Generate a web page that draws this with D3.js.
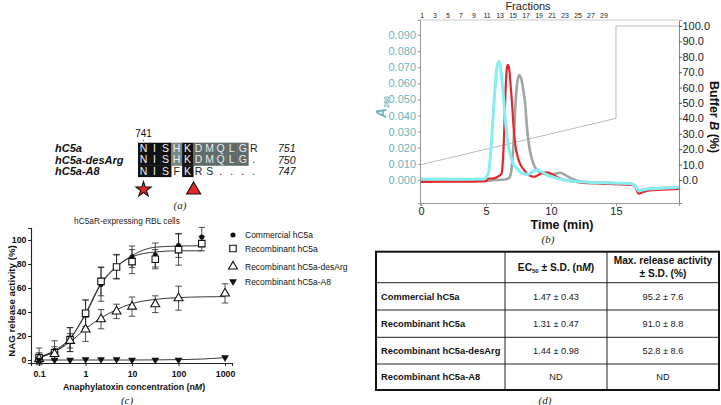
<!DOCTYPE html>
<html><head><meta charset="utf-8">
<script src="https://cdn.jsdelivr.net/npm/d3@7"></script>
<style>
body{margin:0;background:#fff}
svg{display:block}
text{font-family:"Liberation Sans",Arial,sans-serif}
.serif{font-family:"Liberation Serif","Times New Roman",serif;font-style:italic}
</style>
</head><body>
<svg id="fig" width="721" height="405"></svg>
<script>
// ---------- Panel (a): alignment ----------
const seqNames = ["hC5a", "hC5a-desArg", "hC5a-A8"];
const seqResidues = ["NISHKDMQLGR", "NISHKDMQLG.", "NISFKRS...."];
const seqShade = ["bbbhbgggggw", "bbbhbgggggw", "bbbwbwwwwww"];
const seqEnds = ["751", "750", "747"];
const seqStartLabel = "741";

// ---------- Panel (b): chromatogram ----------
const fractionLabels = [1, 3, 5, 7, 9, 11, 13, 15, 17, 19, 21, 23, 25, 27, 29];
const fractionMinutes = 0.5;
const timeTicks = [0, 5, 10, 15];
const a280Ticks = [0, 0.01, 0.02, 0.03, 0.04, 0.05, 0.06, 0.07, 0.08, 0.09];
const bufferTicks = [0, 10, 20, 30, 40, 50, 60, 70, 80, 90, 100];
const gradientTime = [0, 15, 15, 19.85];
const gradientB = [10, 40, 100, 100];

const grayTime = [0, 2, 4, 5.2, 5.6, 6.0, 6.5, 6.8, 6.95, 7.05, 7.15, 7.25, 7.4, 7.55, 7.7, 7.85, 8.0, 8.15, 8.3, 8.5, 8.7, 9.0, 9.4, 9.9, 10.3, 10.7, 11.1, 11.6, 12.2, 13, 14, 15, 16, 16.3, 16.55, 16.75, 17, 17.5, 18.5, 19.85];
const grayA280 = [0.0003, 0.0003, 0.0002, -0.0005, 0.0, 0.0, 0.0003, 0.0015, 0.006, 0.014, 0.028, 0.045, 0.060, 0.065, 0.063, 0.057, 0.048, 0.033, 0.022, 0.014, 0.009, 0.0055, 0.004, 0.003, 0.0038, 0.0045, 0.003, 0.0008, -0.0008, -0.0014, -0.0018, -0.002, -0.0022, -0.0027, -0.0045, -0.0066, -0.006, -0.0055, -0.005, -0.0045];

const redTime = [0, 2, 4, 5.0, 5.2, 5.6, 5.9, 6.2, 6.3, 6.4, 6.5, 6.6, 6.68, 6.78, 6.9, 7.0, 7.12, 7.25, 7.45, 7.65, 7.9, 8.15, 8.5, 8.75, 9.0, 9.3, 9.65, 10.0, 10.4, 10.8, 11.5, 12.5, 13.5, 14.5, 15.5, 16.2, 16.5, 16.75, 17.1, 17.6, 18.5, 19.85];
const redA280 = [-0.0012, -0.0011, -0.001, -0.0008, 0.0008, 0.001, 0.002, 0.004, 0.012, 0.030, 0.055, 0.069, 0.0715, 0.069, 0.058, 0.048, 0.033, 0.022, 0.014, 0.0095, 0.0065, 0.004, 0.0022, 0.002, 0.003, 0.0042, 0.0048, 0.004, 0.002, 0.0006, -0.0008, -0.0018, -0.0022, -0.0025, -0.0028, -0.003, -0.0045, -0.0085, -0.0075, -0.0065, -0.006, -0.0055];

const cyanTime = [0, 1, 2, 3, 4, 4.8, 5.0, 5.2, 5.35, 5.5, 5.65, 5.8, 5.95, 6.05, 6.2, 6.35, 6.5, 6.65, 6.85, 7.1, 7.4, 7.8, 8.2, 8.6, 8.9, 9.3, 9.7, 10.3, 11, 12, 13, 14, 15, 16, 16.3, 16.55, 16.75, 17.0, 17.5, 18.5, 19.85];
const cyanA280 = [0.0006, 0.0005, 0.0006, 0.0004, 0.0005, 0.0006, 0.0015, 0.005, 0.016, 0.034, 0.052, 0.067, 0.0735, 0.073, 0.064, 0.051, 0.036, 0.025, 0.016, 0.010, 0.007, 0.004, 0.0035, 0.005, 0.0062, 0.005, 0.003, 0.0015, 0.0, -0.001, -0.0015, -0.0018, -0.002, -0.0022, -0.0028, -0.0045, -0.0068, -0.0062, -0.0056, -0.0052, -0.0045];

// ---------- Panel (c): dose response ----------
const concentrations = [0.1, 0.215, 0.464, 1, 2.15, 4.64, 10, 31.6, 100, 316, 1000];
const seriesNames = ["Commercial hC5a", "Recombinant hC5a", "Recombinant hC5a-desArg", "Recombinant hC5a-A8"];
const commercialMean = [3, 8, 17, 38, 63, 78, 86, 87.5, 95.5, 102.5, null];
const commercialSD = [7, 8, 10, 12, 14, 10, 9, 10, 10, 8, null];
const recombinantMean = [2, 6, 17, 39, 65.5, 77.5, 82, 84, 92, 97, null];
const recombinantSD = [4, 5, 10, 11, 12, 10, 10, 8, 13, 6, null];
const desArgMean = [1, 5, 16, 25.5, 34, 40.5, 44.5, 46.5, 51.5, null, 55.5];
const desArgSD = [3, 4, 6, 10, 8, 6, 8, 7, 10, null, 8];
const a8Mean = [0, 0, 0, 0.5, 0.5, 0.5, 0, 0, 0, null, 2];
const a8SD = [0, 0, 0, 0, 0, 0, 0, 0, 0, null, 0];
const fitConc = [0.1, 0.215, 0.464, 1, 2.15, 4.64, 10, 31.6, 100, 316, 1000];
const commercialFit = [2.5, 8, 18, 38, 63, 77.5, 87, 94, 95, 95.2, null];
const recombinantFit = [2, 7, 17.5, 39, 64, 78, 86, 90, 91, 91, null];
const desArgFit = [2, 7, 15, 26, 35, 42, 47, 50.5, 52, 52.6, 52.8];
const a8Fit = [0, 0, 0, 0, 0, 0, 0, 0.1, 0.3, 0.8, 2];
const yTicksC = [0, 20, 40, 60, 80, 100];
const xTicksC = [0.1, 1, 10, 100, 1000];

// ---------- Panel (d): table ----------
const tableRows = ["Commercial hC5a", "Recombinant hC5a", "Recombinant hC5a-desArg", "Recombinant hC5a-A8"];
const ec50Values = ["1.47 ± 0.43", "1.31 ± 0.47", "1.44 ± 0.98", "ND"];
const maxValues = ["95.2 ± 7.6", "91.0 ± 8.8", "52.8 ± 8.6", "ND"];

const svg = d3.select("#fig");

// ===== Panel (a) =====
(function(){
  const g = svg.append("g");
  const col = d3.scaleBand().domain(d3.range(11)).range([138, 259.3]);
  const row = d3.scaleBand().domain(d3.range(3)).range([142.7, 176.7]);
  const fill = {b: "#111", h: "#778585", g: "#5e6a6a", w: "none"};
  const tcol = {b: "#f2f2f2", h: "#eef2f2", g: "#e9eded", w: "#222"};
  seqResidues.forEach((s, r) => {
    s.split("").forEach((ch, i) => {
      const sh = seqShade[r][i];
      if (sh !== "w") g.append("rect").attr("x", col(i)).attr("y", row(r)).attr("width", col.bandwidth() + 0.4).attr("height", row.bandwidth() + 0.4).attr("fill", fill[sh]);
      g.append("text").attr("x", col(i) + col.bandwidth() / 2).attr("y", row(r) + row.bandwidth() / 2 + 3.6)
        .attr("text-anchor", "middle").attr("font-size", 10.5).attr("fill", tcol[sh]).text(ch);
    });
    g.append("text").attr("x", 55).attr("y", row(r) + row.bandwidth() / 2 + 4).attr("font-size", 11)
      .attr("font-weight", "bold").attr("font-style", "italic").attr("fill", "#111").text(seqNames[r]);
    g.append("text").attr("x", 278).attr("y", row(r) + row.bandwidth() / 2 + 4).attr("font-size", 10.5)
      .attr("font-style", "italic").attr("fill", "#111").text(seqEnds[r]);
  });
  g.append("text").attr("x", col(0) + col.bandwidth() / 2).attr("y", 137).attr("text-anchor", "middle").attr("font-size", 10).attr("fill", "#111").text(seqStartLabel);
  g.append("circle").attr("cx", col(0) + col.bandwidth() / 2).attr("cy", 140.3).attr("r", 0.6).attr("fill", "#333");
  g.append("path").attr("d", d3.symbol(d3.symbolStar, 70)()).attr("transform", `translate(${col(0) + col.bandwidth() / 2},189.5)`)
    .attr("fill", "#e8262a").attr("stroke", "#111").attr("stroke-width", 1.1);
  g.append("path").attr("d", d3.symbol(d3.symbolTriangle, 85)()).attr("transform", `translate(${col(5) + 0.5},190)`)
    .attr("fill", "#e8262a").attr("stroke", "#111").attr("stroke-width", 1.1);
  g.append("text").attr("class", "serif").attr("x", 180).attr("y", 209).attr("text-anchor", "middle").attr("font-size", 11).attr("fill", "#222").text("(a)");
})();

// ===== Panel (b) =====
(function(){
  const g = svg.append("g");
  const x = d3.scaleLinear().domain([-0.08, 19.85]).range([420, 679]);
  const yA = d3.scaleLinear().domain([-0.0143, 0.0993]).range([203, 20]);
  const yB = d3.scaleLinear().domain([-14.94, 103.9]).range([203, 20]);
  const teal = "#6cb4ba";
  g.append("line").attr("x1", 420).attr("x2", 679).attr("y1", 20).attr("y2", 20).attr("stroke", "#bbb").attr("stroke-width", 0.8);
  const gl = d3.line().x(d => x(d[0])).y(d => yB(d[1]));
  g.append("path").attr("d", gl(gradientTime.map((t, i) => [t, gradientB[i]]))).attr("fill", "none").attr("stroke", "#aaa").attr("stroke-width", 0.8);
  const line = d3.line().x(d => x(d[0])).y(d => yA(d[1])).curve(d3.curveMonotoneX);
  g.append("path").attr("d", line(grayTime.map((t, i) => [t, grayA280[i]]))).attr("fill", "none").attr("stroke", "#9ea6a6").attr("stroke-width", 2.6);
  g.append("path").attr("d", line(redTime.map((t, i) => [t, redA280[i]]))).attr("fill", "none").attr("stroke", "#e3262b").attr("stroke-width", 2.2);
  g.append("path").attr("d", line(cyanTime.map((t, i) => [t, cyanA280[i]]))).attr("fill", "none").attr("stroke", "#86eef0").attr("stroke-width", 3);
  const ax = g.append("g").attr("transform", "translate(0,203)").call(d3.axisBottom(x).tickValues(timeTicks).tickSize(3).tickFormat(d3.format("d")));
  ax.select(".domain").attr("stroke", "#999");
  ax.selectAll("line").attr("stroke", "#999");
  ax.selectAll("text").attr("font-size", 11).attr("fill", "#222").attr("font-family", "Liberation Sans, Arial").attr("dy", "0.55em");
  const ay = g.append("g").attr("transform", "translate(420,0)").call(d3.axisLeft(yA).tickValues(a280Ticks).tickSize(2).tickFormat(d3.format(".3f")));
  ay.select(".domain").attr("stroke", "#999");
  ay.selectAll("line").attr("stroke", "#999");
  ay.selectAll("text").attr("font-size", 11).attr("fill", teal).attr("font-family", "Liberation Sans, Arial").attr("x", -4);
  const ar = g.append("g").attr("transform", "translate(679,0)").call(d3.axisRight(yB).tickValues(bufferTicks).tickSize(3).tickFormat(d3.format(".1f")));
  ar.select(".domain").attr("stroke", "#888");
  ar.selectAll("line").attr("stroke", "#555");
  ar.selectAll("text").attr("font-size", 11).attr("fill", "#222").attr("font-family", "Liberation Sans, Arial").attr("x", 3.5);
  const fx = n => x((n - 1) * fractionMinutes + 0.08);
  fractionLabels.forEach(n => {
    g.append("text").attr("x", fx(n)).attr("y", 18).attr("text-anchor", "middle").attr("font-size", 7).attr("fill", "#222").text(n);
  });
  g.append("text").attr("x", 528).attr("y", 9.5).attr("text-anchor", "middle").attr("font-size", 11).attr("fill", "#222").text("Fractions");
  const t1 = g.append("text").attr("transform", "translate(386,107) rotate(-90)").attr("text-anchor", "middle").attr("fill", teal).attr("font-size", 14).attr("font-weight", "bold");
  t1.append("tspan").attr("font-style", "italic").text("A");
  t1.append("tspan").attr("font-size", 7).attr("dy", 3).text("280");
  const t2 = g.append("text").attr("transform", "translate(709.5,117) rotate(90)").attr("text-anchor", "middle").attr("fill", "#111").attr("font-size", 12.5).attr("font-weight", "bold");
  t2.append("tspan").text("Buffer ");
  t2.append("tspan").attr("font-style", "italic").text("B");
  t2.append("tspan").text(" (%)");
  g.append("text").attr("x", 562).attr("y", 229).attr("text-anchor", "middle").attr("font-size", 12.5).attr("font-weight", "bold").attr("fill", "#111").text("Time (min)");
  g.append("text").attr("class", "serif").attr("x", 548).attr("y", 242.5).attr("text-anchor", "middle").attr("font-size", 11).attr("fill", "#222").text("(b)");
})();

// ===== Panel (c) =====
(function(){
  const g = svg.append("g");
  const x = d3.scaleLog().domain([0.067, 1413]).range([31, 232]);
  const y = d3.scaleLinear().domain([-2.5, 110]).range([363, 228]);
  const ax = g.append("g").attr("transform", "translate(0,363)").call(d3.axisBottom(x).tickValues(xTicksC).tickSize(3).tickFormat(d => d3.format("~g")(d)));
  ax.select(".domain").attr("stroke", "#222").attr("stroke-width", 1.1);
  ax.selectAll("line").attr("stroke", "#222");
  ax.selectAll("text").attr("font-size", 8.8).attr("font-weight", "bold").attr("fill", "#111").attr("font-family", "Liberation Sans, Arial").attr("dy", "0.9em");
  const ay = g.append("g").attr("transform", "translate(31,0)").call(d3.axisLeft(y).tickValues(yTicksC).tickSize(3));
  ay.select(".domain").attr("stroke", "#222").attr("stroke-width", 1.1);
  ay.selectAll("line").attr("stroke", "#222");
  ay.selectAll("text").attr("font-size", 8.8).attr("font-weight", "bold").attr("fill", "#111").attr("font-family", "Liberation Sans, Arial").attr("x", -4.5);

  const line = d3.line().x(d => x(d[0])).y(d => y(d[1])).curve(d3.curveMonotoneX);
  [commercialFit, recombinantFit, desArgFit, a8Fit].forEach(f => {
    g.append("path").attr("d", line(fitConc.map((c, i) => [c, f[i]]).filter(d => d[1] != null))).attr("fill", "none").attr("stroke", "#222").attr("stroke-width", 0.9);
  });
  const means = [commercialMean, recombinantMean, desArgMean, a8Mean];
  const sds = [commercialSD, recombinantSD, desArgSD, a8SD];
  means.forEach((m, s) => {
    m.forEach((v, i) => {
      if (v == null) return;
      const sd = sds[s][i];
      if (sd > 0) {
        const cx = x(concentrations[i]);
        g.append("line").attr("x1", cx).attr("x2", cx).attr("y1", y(v - sd)).attr("y2", y(v + sd)).attr("stroke", "#222").attr("stroke-width", 0.8);
        [v - sd, v + sd].forEach(e => g.append("line").attr("x1", cx - 3.2).attr("x2", cx + 3.2).attr("y1", y(e)).attr("y2", y(e)).attr("stroke", "#222").attr("stroke-width", 0.8));
      }
    });
  });
  const markers = [
    {sym: d3.symbolCircle, size: 20, fill: "#111", stroke: "none"},
    {sym: d3.symbolSquare, size: 42, fill: "#fff", stroke: "#111"},
    {sym: d3.symbolTriangle, size: 34, fill: "#fff", stroke: "#111"},
    {sym: d3.symbolTriangle, size: 26, fill: "#111", stroke: "none", flip: true}
  ];
  const drawMarker = (mk, px, py) => g.append("path").attr("d", d3.symbol(mk.sym, mk.size)())
    .attr("transform", `translate(${px},${py})` + (mk.flip ? " rotate(180)" : ""))
    .attr("fill", mk.fill).attr("stroke", mk.stroke).attr("stroke-width", 1.1);
  means.forEach((m, s) => {
    m.forEach((v, i) => { if (v != null) drawMarker(markers[s], x(concentrations[i]), y(v)); });
  });
  const legendY = [235, 248.5, 266.5, 281.5];
  seriesNames.forEach((n, i) => {
    drawMarker(markers[i], 233, legendY[i]);
    g.append("text").attr("x", 245).attr("y", legendY[i] + 3).attr("font-size", 8.5).attr("fill", "#111").text(n);
  });
  g.append("text").attr("x", 127).attr("y", 224).attr("text-anchor", "middle").attr("font-size", 8.3).attr("fill", "#222").text("hC5aR-expressing RBL cells");
  g.append("text").attr("transform", "translate(15,301) rotate(-90)").attr("text-anchor", "middle").attr("font-size", 9.7).attr("font-weight", "bold").attr("fill", "#111").text("NAG release activity (%)");
  const xt = g.append("text").attr("x", 134).attr("y", 390).attr("text-anchor", "middle").attr("font-size", 8.8).attr("font-weight", "bold").attr("fill", "#111");
  xt.append("tspan").text("Anaphylatoxin concentration (n");
  xt.append("tspan").attr("font-style", "italic").text("M");
  xt.append("tspan").text(")");
  g.append("text").attr("class", "serif").attr("x", 127).attr("y", 403.5).attr("text-anchor", "middle").attr("font-size", 11).attr("fill", "#222").text("(c)");
})();

// ===== Panel (d) =====
(function(){
  const g = svg.append("g");
  const colX = [376, 505, 607, 719];
  const rowY = [251.7, 282.7, 310, 337.3, 364, 390];
  for (let i = 1; i < rowY.length - 1; i++) g.append("line").attr("x1", colX[0]).attr("x2", colX[3]).attr("y1", rowY[i]).attr("y2", rowY[i]).attr("stroke", "#222").attr("stroke-width", 1);
  for (let i = 1; i < colX.length - 1; i++) g.append("line").attr("x1", colX[i]).attr("x2", colX[i]).attr("y1", rowY[0]).attr("y2", rowY[5]).attr("stroke", "#222").attr("stroke-width", 1);
  g.append("rect").attr("x", colX[0]).attr("y", rowY[0]).attr("width", colX[3] - colX[0]).attr("height", rowY[5] - rowY[0]).attr("fill", "none").attr("stroke", "#111").attr("stroke-width", 2);
  const c2 = (colX[1] + colX[2]) / 2, c3 = (colX[2] + colX[3]) / 2;
  const h1 = g.append("text").attr("x", c2).attr("y", (rowY[0] + rowY[1]) / 2 + 3.6).attr("text-anchor", "middle").attr("font-size", 10.2).attr("font-weight", "bold").attr("fill", "#111");
  h1.append("tspan").text("EC");
  h1.append("tspan").attr("font-size", 6).attr("dy", 2).text("50");
  h1.append("tspan").attr("dy", -2).text(" ± S.D. (n");
  h1.append("tspan").attr("font-style", "italic").text("M");
  h1.append("tspan").text(")");
  g.append("text").attr("x", c3).attr("y", 264).attr("text-anchor", "middle").attr("font-size", 10.2).attr("font-weight", "bold").attr("fill", "#111").text("Max. release activity");
  g.append("text").attr("x", c3).attr("y", 277).attr("text-anchor", "middle").attr("font-size", 10.2).attr("font-weight", "bold").attr("fill", "#111").text("± S.D. (%)");
  tableRows.forEach((r, i) => {
    const cy = (rowY[i + 1] + rowY[i + 2]) / 2 + 3.4;
    g.append("text").attr("x", 381).attr("y", cy).attr("font-size", 9.3).attr("font-weight", "bold").attr("fill", "#111").text(r);
    g.append("text").attr("x", c2).attr("y", cy).attr("text-anchor", "middle").attr("font-size", 9.2).attr("fill", "#222").text(ec50Values[i]);
    g.append("text").attr("x", c3).attr("y", cy).attr("text-anchor", "middle").attr("font-size", 9.2).attr("fill", "#222").text(maxValues[i]);
  });
  g.append("text").attr("class", "serif").attr("x", 545).attr("y", 403.5).attr("text-anchor", "middle").attr("font-size", 11).attr("fill", "#222").text("(d)");
})();
</script>
</body></html>
